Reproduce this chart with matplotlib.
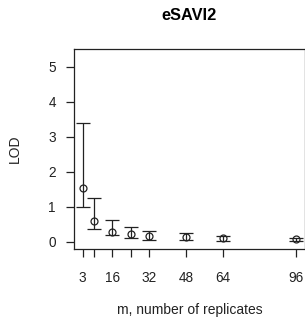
import numpy as np
import matplotlib
matplotlib.use("Agg")
import matplotlib.pyplot as plt

plt.rcParams['font.family'] = ['Liberation Sans', 'DejaVu Sans']

# replicate counts and LOD estimates with interval bounds
m_values = [3, 8, 16, 24, 32, 48, 64, 96]
lod_mid = [1.53, 0.59, 0.29, 0.21, 0.16, 0.12, 0.10, 0.07]
lod_upper = [3.39, 1.25, 0.63, 0.42, 0.31, 0.25, 0.15, 0.10]
lod_lower = [0.98, 0.37, 0.19, 0.11, 0.05, 0.04, 0.03, 0.03]

x_ticks = [3, 8, 16, 24, 32, 48, 64, 96]
x_tick_labels = ['3', '', '16', '', '32', '48', '64', '96']
y_ticks = [0, 1, 2, 3, 4, 5]

fig = plt.figure(figsize=(3.05, 3.2), dpi=100)
ax = fig.add_axes([74 / 305, 1 - 249 / 320, 231 / 305, 200 / 320])

col = '#222222'
m = np.array(m_values)
mid = np.array(lod_mid)
yerr = np.vstack([mid - np.array(lod_lower), np.array(lod_upper) - mid])
ax.errorbar(m, mid, yerr=yerr, fmt='o', mfc='none', mec=col, ms=5, mew=0.9,
            ecolor=col, elinewidth=0.9, capsize=5, capthick=0.9)

ax.set_xlim(3 - 93 * 0.04, 96 + 93 * 0.04)
ax.set_ylim(-0.21, 5.51)
ax.set_xticks(x_ticks)
ax.set_xticklabels(x_tick_labels)
ax.set_yticks(y_ticks)

for s in ax.spines.values():
    s.set_color(col)
    s.set_linewidth(0.9)
ax.tick_params(axis='both', direction='out', length=5.5, width=0.9, color=col,
               labelsize=9.8, labelcolor='#222222')
ax.tick_params(axis='x', pad=10)
ax.tick_params(axis='y', pad=7.5)

ax.set_xlabel('m, number of replicates', fontsize=10, color='#222222', labelpad=13)
ax.set_ylabel('LOD', fontsize=10, color='#222222', labelpad=19)
fig.text((74 + 305) / 2 / 305, 1 - 16 / 320, 'eSAVI2', ha='center', va='center',
         fontsize=11.8, fontweight='bold')

fig.savefig('out.png', dpi=100)
